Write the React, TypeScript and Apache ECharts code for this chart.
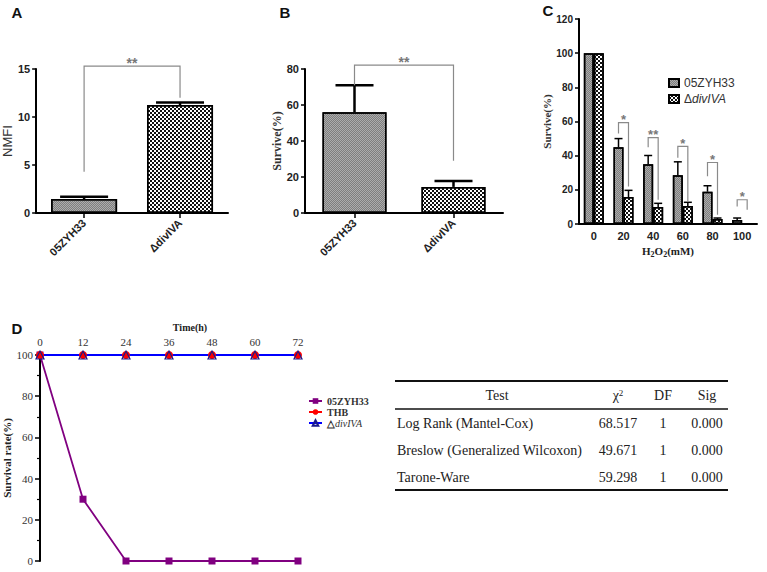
import React, { useEffect, useRef } from 'react';
import * as echarts from 'echarts';

// ---------- Panel A ----------
const strainsAB = ['05ZYH33', 'ΔdivIVA'];
const nmfiValues = [1.45, 11.25];
const nmfiErrTop = [1.7, 11.5];
const bracketA = [[0, 1, 15.3, 4.3, 12.0]];
const bracketASig = ['**'];

// ---------- Panel B ----------
const survB = [56, 14.5];
const survBErrTop = [71, 17.8];
const bracketB = [[0, 1, 82.2, 71, 29]];
const bracketBSig = ['**'];

// ---------- Panel C ----------
const h2o2Conc = ['0', '20', '40', '60', '80', '100'];
const survCWt = [100, 45, 35, 28.6, 18.9, 2.4];
const survCWtErrTop = [100, 50, 40.1, 36.4, 22.4, 3.5];
const survCMut = [100, 15.8, 9.9, 10.5, 2.9, 0];
const survCMutErrTop = [100, 19.7, 12.1, 12.7, 3.5, 0];
const bracketC = [
  [1, 1, 59.4, 53, 22],
  [2, 2, 50.6, 45, 14.2],
  [3, 3, 45.4, 38.8, 13.2],
  [4, 4, 36, 28, 5.4],
  [5, 5, 14.2, 10.3, 8.4],
];
const bracketCSig = ['*', '**', '*', '*', '*'];

// ---------- Panel D ----------
const timeH = [0, 12, 24, 36, 48, 60, 72];
const survDWt = [100, 30, 0, 0, 0, 0, 0];
const survDThb = [100, 100, 100, 100, 100, 100, 100];
const survDMut = [100, 100, 100, 100, 100, 100, 100];

// ---------- Table ----------
const tableHeader = ['Test', 'χ2', 'DF', 'Sig'];
const tableTests = ['Log Rank (Mantel-Cox)', 'Breslow (Generalized Wilcoxon)', 'Tarone-Ware'];
const tableChi = ['68.517', '49.671', '59.298'];
const tableDF = ['1', '1', '1'];
const tableSig = ['0.000', '0.000', '0.000'];

const SANS = '"Liberation Sans", Arial, sans-serif';
const SERIF = '"Liberation Serif", "Times New Roman", serif';

const greyDecal = {
  symbol: 'rect',
  symbolSize: 1,
  color: 'rgba(40,40,40,0.35)',
  dashArrayX: [[1, 1], [0, 1, 1, 0]],
  dashArrayY: [1, 0],
};
const checkDecal = {
  symbol: 'rect',
  symbolSize: 1,
  color: '#111',
  dashArrayX: [[2, 2], [0, 2, 2, 0]],
  dashArrayY: [2, 0],
};
const greyItem = { color: '#acacac', borderColor: '#000', borderWidth: 1.5, decal: greyDecal };
const checkItem = { color: '#fff', borderColor: '#000', borderWidth: 1.5, decal: checkDecal };

function errRender(offset: number, capHalf: number, lw: number) {
  return (params: any, api: any) => {
    const i = api.value(0);
    const v = api.value(1);
    const t = api.value(2);
    if (!(t > v)) return { type: 'group', children: [] };
    const p0 = api.coord([i, v]);
    const p1 = api.coord([i, t]);
    const x = p0[0] + offset;
    return {
      type: 'group',
      children: [
        { type: 'line', shape: { x1: x, y1: p0[1], x2: x, y2: p1[1] }, style: { stroke: '#000', lineWidth: lw } },
        { type: 'line', shape: { x1: x - capHalf, y1: p1[1], x2: x + capHalf, y2: p1[1] }, style: { stroke: '#000', lineWidth: lw } },
      ],
    };
  };
}

function bracketRender(sigs: string[], offL: number, offR: number, fontSize: number) {
  return (params: any, api: any) => {
    const xa = api.value(0);
    const xb = api.value(1);
    const pTL = api.coord([xa, api.value(2)]);
    const pTR = api.coord([xb, api.value(2)]);
    const pL = api.coord([xa, api.value(3)]);
    const pR = api.coord([xb, api.value(4)]);
    const xl = pTL[0] + offL;
    const xr = pTR[0] + offR;
    const yt = pTL[1];
    return {
      type: 'group',
      children: [
        {
          type: 'polyline',
          shape: { points: [[xl, pL[1]], [xl, yt], [xr, yt], [xr, pR[1]]] },
          style: { stroke: '#8a8a8a', lineWidth: 1.2, fill: 'none' },
        },
        {
          type: 'text',
          x: (xl + xr) / 2,
          y: yt - 3,
          style: {
            text: sigs[params.dataIndex],
            textAlign: 'center',
            textVerticalAlign: 'middle',
            fill: '#777',
            font: `bold ${fontSize}px ${SANS}`,
          },
        },
      ],
    };
  };
}

const boldAxisLabel = (size: number) => ({ fontFamily: SANS, fontWeight: 'bold', fontSize: size, color: '#222' });
const blackLine = { show: true, lineStyle: { color: '#000', width: 2 } };

export default function App() {
  const ref = useRef<HTMLDivElement>(null);
  useEffect(() => {
    if (!ref.current) return;
    const chart = echarts.init(ref.current, undefined, { renderer: 'svg' });

    const graphics: any[] = [];
    const letter = (t: string, x: number, y: number) =>
      graphics.push({ type: 'text', x, y, style: { text: t, textAlign: 'center', textVerticalAlign: 'middle', font: `bold 15px ${SANS}`, fill: '#111' } });
    letter('A', 17, 12);
    letter('B', 285, 12);
    letter('C', 548, 10);
    letter('D', 17, 328);

    // table
    const tFont = `14px ${SERIF}`;
    const colX = [497, 618, 663, 707];
    graphics.push({ type: 'line', shape: { x1: 395, y1: 381, x2: 728, y2: 381 }, style: { stroke: '#111', lineWidth: 2 } });
    graphics.push({ type: 'line', shape: { x1: 395, y1: 409, x2: 728, y2: 409 }, style: { stroke: '#111', lineWidth: 1.5 } });
    graphics.push({ type: 'line', shape: { x1: 395, y1: 490, x2: 728, y2: 490 }, style: { stroke: '#111', lineWidth: 2 } });
    tableHeader.forEach((h, j) => {
      const isChi = h === 'χ2';
      graphics.push({
        type: 'text',
        x: colX[j],
        y: 395,
        style: isChi
          ? {
              text: '{a|χ}{s|2}',
              textAlign: 'center',
              textVerticalAlign: 'middle',
              rich: {
                a: { font: tFont, fill: '#222' },
                s: { font: `9px ${SERIF}`, fill: '#222', padding: [0, 0, 5, 0] },
              },
            }
          : { text: h, textAlign: 'center', textVerticalAlign: 'middle', font: tFont, fill: '#222' },
      });
    });
    tableTests.forEach((name, i) => {
      const y = 423 + i * 27;
      graphics.push({ type: 'text', x: 397, y, style: { text: name, textAlign: 'left', textVerticalAlign: 'middle', font: tFont, fill: '#222' } });
      [tableChi[i], tableDF[i], tableSig[i]].forEach((v, k) => {
        graphics.push({ type: 'text', x: colX[k + 1], y, style: { text: v, textAlign: 'center', textVerticalAlign: 'middle', font: tFont, fill: '#222' } });
      });
    });

    const option: any = {
      animation: false,
      textStyle: { fontFamily: SANS },
      grid: [
        { left: 33, top: 69, width: 195, height: 144 },
        { left: 305, top: 69, width: 198, height: 144 },
        { left: 579, top: 19, width: 178, height: 205 },
        { left: 40, top: 355, width: 258, height: 206 },
      ],
      legend: [
        {
          data: ['05ZYH33', 'ΔdivIVA'],
          left: 663,
          top: 72,
          orient: 'vertical',
          icon: 'rect',
          itemWidth: 10,
          itemHeight: 8,
          itemGap: 4,
          selectedMode: false,
          formatter: (n: string) => (n === 'ΔdivIVA' ? '{n|Δ}{i|divIVA}' : n),
          textStyle: {
            fontFamily: SANS,
            fontSize: 12,
            color: '#333',
            rich: {
              n: { fontFamily: SANS, fontSize: 12, color: '#333' },
              i: { fontFamily: SANS, fontSize: 12, color: '#333', fontStyle: 'italic' },
            },
          },
        },
        {
          data: ['D:05ZYH33', 'D:THB', 'D:△divIVA'],
          left: 303,
          top: 391,
          orient: 'vertical',
          itemWidth: 13,
          itemHeight: 7,
          itemGap: 1,
          selectedMode: false,
          formatter: (n: string) => {
            const s = n.replace('D:', '');
            return s === '△divIVA' ? '{n|△}{i|divIVA}' : '{n|' + s + '}';
          },
          textStyle: {
            fontFamily: SERIF,
            fontSize: 10,
            color: '#333',
            rich: {
              n: { fontFamily: SERIF, fontSize: 10, fontWeight: 'bold', color: '#333' },
              i: { fontFamily: SERIF, fontSize: 10, fontStyle: 'italic', color: '#333' },
            },
          },
        },
      ],
      xAxis: [
        {
          gridIndex: 0,
          type: 'category',
          data: strainsAB,
          axisLine: blackLine,
          axisTick: { show: true, alignWithLabel: true, length: 5, lineStyle: { color: '#000', width: 1.5 } },
          axisLabel: { ...boldAxisLabel(11), rotate: 45, margin: 8 },
        },
        {
          gridIndex: 1,
          type: 'category',
          data: strainsAB,
          axisLine: blackLine,
          axisTick: { show: true, alignWithLabel: true, length: 5, lineStyle: { color: '#000', width: 1.5 } },
          axisLabel: { ...boldAxisLabel(11), rotate: 45, margin: 8 },
        },
        {
          gridIndex: 2,
          type: 'category',
          data: h2o2Conc,
          axisLine: blackLine,
          axisTick: { show: false },
          axisLabel: { ...boldAxisLabel(11), margin: 6 },
          name: '{b|H}{s|2}{b|O}{s|2}{b|(mM)}',
          nameLocation: 'middle',
          nameGap: 20,
          nameTextStyle: {
            rich: {
              b: { fontFamily: SERIF, fontWeight: 'bold', fontSize: 11, color: '#222', lineHeight: 14 },
              s: { fontFamily: SERIF, fontWeight: 'bold', fontSize: 8, color: '#222', verticalAlign: 'bottom', lineHeight: 10 },
            },
          },
        },
        {
          gridIndex: 3,
          type: 'value',
          position: 'top',
          min: 0,
          max: 72,
          interval: 12,
          axisLine: { show: false },
          axisTick: { show: false },
          splitLine: { show: false },
          axisLabel: { fontFamily: SERIF, fontSize: 11, color: '#333', margin: 8 },
          name: 'Time(h)',
          nameLocation: 'middle',
          nameGap: 23,
          nameTextStyle: { fontFamily: SERIF, fontWeight: 'bold', fontSize: 10, color: '#222', padding: [0, 0, 0, 42] },
        },
      ],
      yAxis: [
        {
          gridIndex: 0,
          type: 'value',
          min: 0,
          max: 15,
          interval: 5,
          axisLine: blackLine,
          axisTick: { show: true, length: 4, lineStyle: { color: '#000', width: 1.5 } },
          splitLine: { show: false },
          axisLabel: { ...boldAxisLabel(11), margin: 6 },
          name: 'NMFI',
          nameLocation: 'middle',
          nameGap: 13,
          nameTextStyle: { fontFamily: SANS, fontSize: 13, color: '#333' },
        },
        {
          gridIndex: 1,
          type: 'value',
          min: 0,
          max: 80,
          interval: 20,
          axisLine: blackLine,
          axisTick: { show: true, length: 4, lineStyle: { color: '#000', width: 1.5 } },
          splitLine: { show: false },
          axisLabel: { ...boldAxisLabel(11), margin: 6 },
          name: 'Survive(%)',
          nameLocation: 'middle',
          nameGap: 19,
          nameTextStyle: { fontFamily: SERIF, fontWeight: 'bold', fontSize: 12, color: '#333' },
        },
        {
          gridIndex: 2,
          type: 'value',
          min: 0,
          max: 120,
          interval: 20,
          axisLine: blackLine,
          axisTick: { show: true, length: 4, lineStyle: { color: '#000', width: 1.5 } },
          splitLine: { show: false },
          axisLabel: { ...boldAxisLabel(10), margin: 6 },
          name: 'Survive(%)',
          nameLocation: 'middle',
          nameGap: 16,
          nameTextStyle: { fontFamily: SERIF, fontWeight: 'bold', fontSize: 11, color: '#333' },
        },
        {
          gridIndex: 3,
          type: 'value',
          min: 0,
          max: 100,
          interval: 20,
          axisLine: blackLine,
          axisTick: { show: true, length: 5, lineStyle: { color: '#000', width: 1.5 } },
          minorTick: { show: true, splitNumber: 2, length: 3, lineStyle: { color: '#000', width: 1.2 } },
          splitLine: { show: false },
          axisLabel: { fontFamily: SERIF, fontSize: 11, color: '#333', margin: 7 },
          name: 'Survival rate(%)',
          nameLocation: 'middle',
          nameGap: 27,
          nameTextStyle: { fontFamily: SERIF, fontWeight: 'bold', fontSize: 11, color: '#222' },
        },
      ],
      series: [
        // A
        {
          type: 'bar',
          name: 'A',
          xAxisIndex: 0,
          yAxisIndex: 0,
          barWidth: 66,
          data: nmfiValues.map((v, i) => ({ value: v, itemStyle: i === 0 ? greyItem : checkItem })),
        },
        {
          type: 'custom',
          xAxisIndex: 0,
          yAxisIndex: 0,
          encode: { x: 0, y: [1, 2] },
          renderItem: errRender(0, 24, 2.5),
          data: nmfiValues.map((v, i) => [i, v, nmfiErrTop[i]]),
          z: 3,
        },
        {
          type: 'custom',
          xAxisIndex: 0,
          yAxisIndex: 0,
          encode: { x: [0, 1], y: [2, 3, 4] },
          renderItem: bracketRender(bracketASig, 0, 0, 14),
          data: bracketA,
          z: 4,
        },
        // B
        {
          type: 'bar',
          name: 'B',
          xAxisIndex: 1,
          yAxisIndex: 1,
          barWidth: 64,
          data: survB.map((v, i) => ({ value: v, itemStyle: i === 0 ? greyItem : checkItem })),
        },
        {
          type: 'custom',
          xAxisIndex: 1,
          yAxisIndex: 1,
          encode: { x: 0, y: [1, 2] },
          renderItem: errRender(0, 19, 2.5),
          data: survB.map((v, i) => [i, v, survBErrTop[i]]),
          z: 3,
        },
        {
          type: 'custom',
          xAxisIndex: 1,
          yAxisIndex: 1,
          encode: { x: [0, 1], y: [2, 3, 4] },
          renderItem: bracketRender(bracketBSig, 0, 0, 14),
          data: bracketB,
          z: 4,
        },
        // C
        {
          type: 'bar',
          name: '05ZYH33',
          xAxisIndex: 2,
          yAxisIndex: 2,
          barWidth: 10,
          barGap: '0%',
          itemStyle: greyItem,
          data: survCWt,
        },
        {
          type: 'bar',
          name: 'ΔdivIVA',
          xAxisIndex: 2,
          yAxisIndex: 2,
          barWidth: 10,
          barGap: '0%',
          itemStyle: checkItem,
          data: survCMut,
        },
        {
          type: 'custom',
          xAxisIndex: 2,
          yAxisIndex: 2,
          encode: { x: 0, y: [1, 2] },
          renderItem: errRender(-5, 4, 1.5),
          data: survCWt.map((v, i) => [i, v, survCWtErrTop[i]]),
          z: 3,
        },
        {
          type: 'custom',
          xAxisIndex: 2,
          yAxisIndex: 2,
          encode: { x: 0, y: [1, 2] },
          renderItem: errRender(5, 4, 1.5),
          data: survCMut.map((v, i) => [i, v, survCMutErrTop[i]]),
          z: 3,
        },
        {
          type: 'custom',
          xAxisIndex: 2,
          yAxisIndex: 2,
          encode: { x: [0, 1], y: [2, 3, 4] },
          renderItem: bracketRender(bracketCSig, -5, 5, 13),
          data: bracketC,
          z: 4,
        },
        // D
        {
          type: 'line',
          name: 'D:05ZYH33',
          xAxisIndex: 3,
          yAxisIndex: 3,
          data: timeH.map((t, i) => [t, survDWt[i]]),
          symbol: 'rect',
          symbolSize: 7,
          lineStyle: { color: '#800080', width: 1.8 },
          itemStyle: { color: '#800080' },
        },
        {
          type: 'line',
          name: 'D:THB',
          xAxisIndex: 3,
          yAxisIndex: 3,
          data: timeH.map((t, i) => [t, survDThb[i]]),
          symbol: 'circle',
          symbolSize: 8,
          lineStyle: { color: '#ff0000', width: 1.8 },
          itemStyle: { color: '#ff0000' },
        },
        {
          type: 'line',
          name: 'D:△divIVA',
          xAxisIndex: 3,
          yAxisIndex: 3,
          data: timeH.map((t, i) => [t, survDMut[i]]),
          symbol: 'triangle',
          symbolSize: 8,
          lineStyle: { color: '#0000ff', width: 1.8 },
          itemStyle: { color: 'rgba(0,0,0,0)', borderColor: '#1a1a8a', borderWidth: 1.2 },
        },
      ],
      graphic: graphics,
    };
    chart.setOption(option);
    return () => chart.dispose();
  }, []);
  return <div ref={ref} style={{ position: 'fixed', left: 0, top: 0, width: 767, height: 572, background: '#fff' }} />;
}
